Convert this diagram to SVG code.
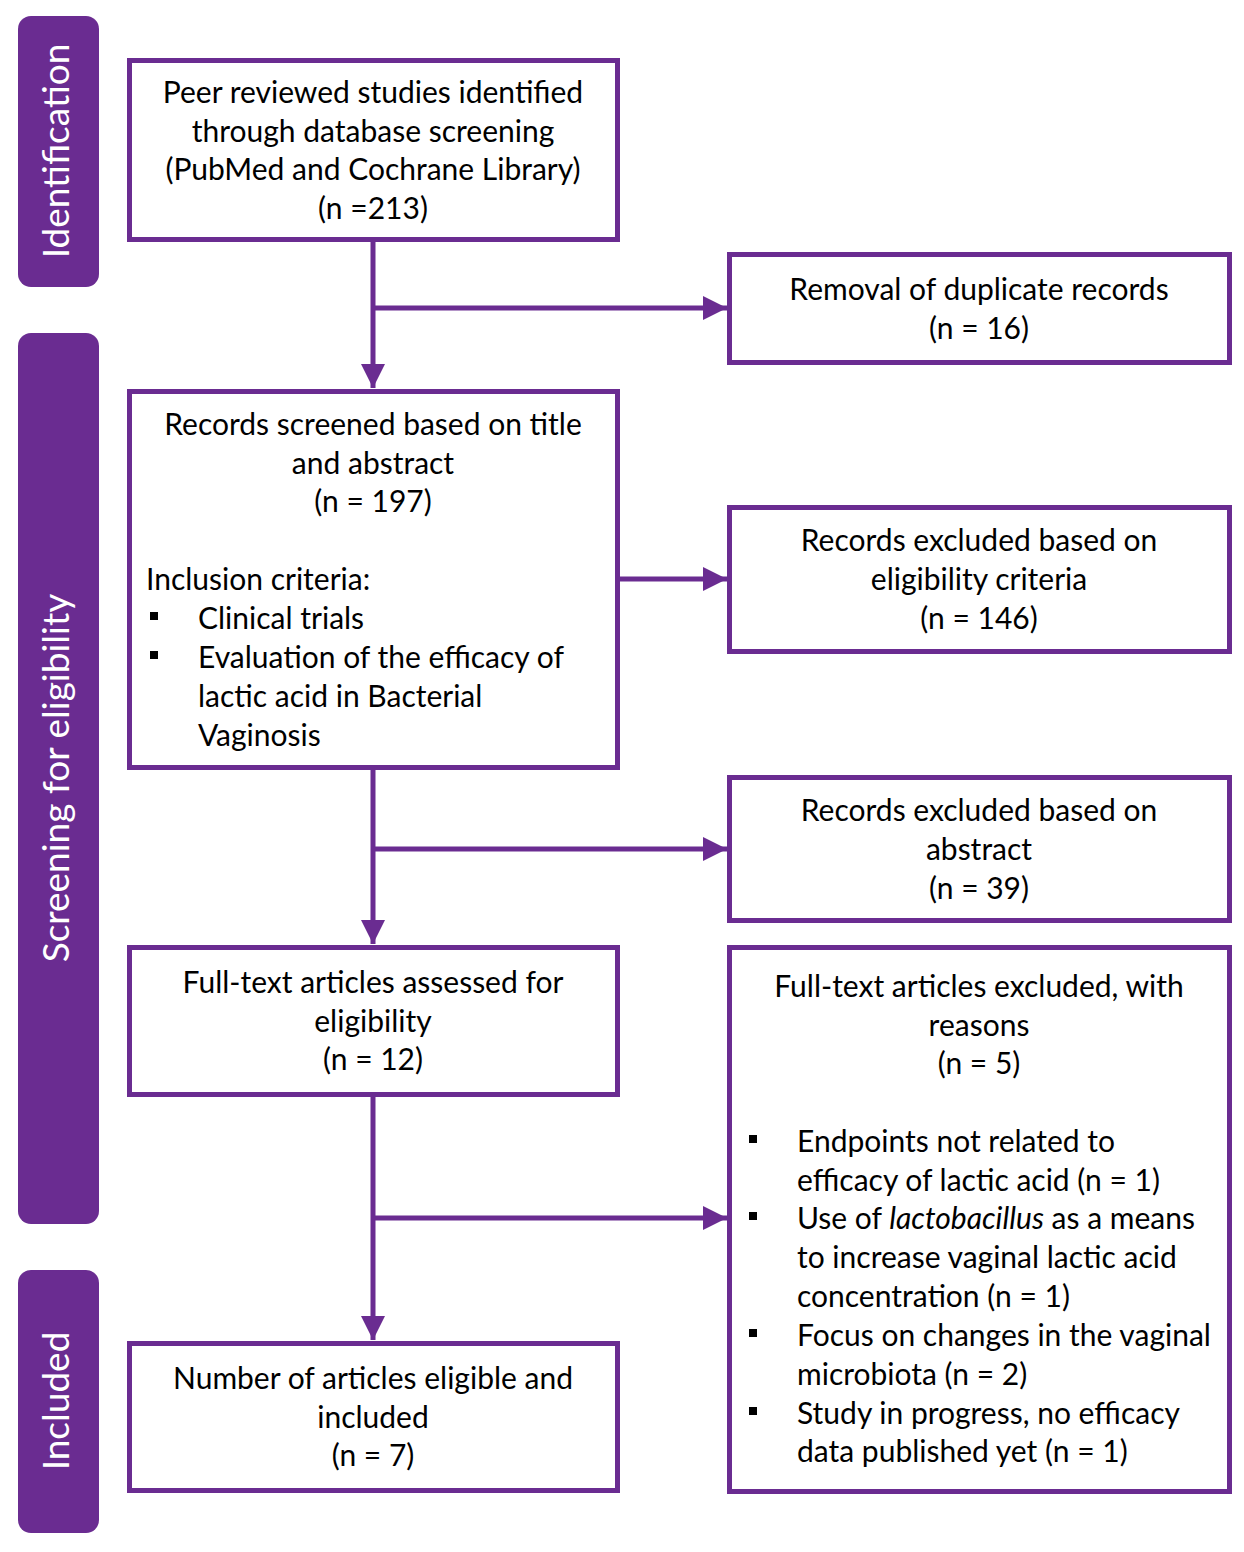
<svg xmlns="http://www.w3.org/2000/svg" width="1244" height="1552" viewBox="0 0 1244 1552">
<style>
.bar{fill:#6a2c91}
.side{fill:#ffffff;font-family:Lato,"Open Sans",sans-serif;font-size:37px;text-anchor:middle}
.box{fill:#ffffff;stroke:#6a2c91;stroke-width:5}
.t{fill:#000000;font-family:Lato,"Open Sans",sans-serif;font-size:30px}
.c{text-anchor:middle}
.ln{fill:none;stroke:#6a2c91;stroke-width:5}
.bul{fill:#000000}
</style>
<defs>
<marker id="ah" viewBox="0 0 10 10" refX="10" refY="5" markerUnits="userSpaceOnUse" markerWidth="24" markerHeight="25" orient="auto">
<path d="M0,0 L10,5 L0,10 Z" fill="#6a2c91"/>
</marker>
</defs>
<rect width="1244" height="1552" fill="#ffffff"/>
<g id="phase-identification">
<rect class="bar" x="18" y="16" width="81" height="271" rx="13"/>
<text class="side" transform="translate(69,151) rotate(-90)">Identification</text>
</g>
<g id="phase-screening">
<rect class="bar" x="18" y="333" width="81" height="891" rx="13"/>
<text class="side" transform="translate(69,778) rotate(-90)">Screening for eligibility</text>
</g>
<g id="phase-included">
<rect class="bar" x="18" y="1270" width="81" height="263" rx="13"/>
<text class="side" transform="translate(69,1401) rotate(-90)">Included</text>
</g>
<g id="connectors">
<path class="ln" d="M373,242 V388" marker-end="url(#ah)"/>
<path class="ln" d="M373,308 H727" marker-end="url(#ah)"/>
<path class="ln" d="M620,579 H727" marker-end="url(#ah)"/>
<path class="ln" d="M373,770 V944" marker-end="url(#ah)"/>
<path class="ln" d="M373,849 H727" marker-end="url(#ah)"/>
<path class="ln" d="M373,1097 V1340" marker-end="url(#ah)"/>
<path class="ln" d="M373,1218 H727" marker-end="url(#ah)"/>
</g>
<g id="box-identified">
<rect class="box" x="129.5" y="60.5" width="488" height="179"/>
<text class="t c" x="373" y="103">Peer reviewed studies identified</text>
<text class="t c" x="373" y="142">through database screening</text>
<text class="t c" x="373" y="180">(PubMed and Cochrane Library)</text>
<text class="t c" x="373" y="219">(n =213)</text>
</g>
<g id="box-duplicates">
<rect class="box" x="729.5" y="254.5" width="500" height="108"/>
<text class="t c" x="979" y="300">Removal of duplicate records</text>
<text class="t c" x="979" y="339">(n = 16)</text>
</g>
<g id="box-screened">
<rect class="box" x="129.5" y="391.5" width="488" height="376"/>
<text class="t c" x="373" y="435">Records screened based on title</text>
<text class="t c" x="373" y="474">and abstract</text>
<text class="t c" x="373" y="512">(n = 197)</text>
<text class="t" x="146" y="590">Inclusion criteria:</text>
<rect class="bul" x="150" y="612" width="8" height="8"/>
<text class="t" x="198" y="629">Clinical trials</text>
<rect class="bul" x="150" y="651" width="8" height="8"/>
<text class="t" x="198" y="668">Evaluation of the efficacy of</text>
<text class="t" x="198" y="707">lactic acid in Bacterial</text>
<text class="t" x="198" y="746">Vaginosis</text>
</g>
<g id="box-excluded-eligibility">
<rect class="box" x="729.5" y="507.5" width="500" height="144"/>
<text class="t c" x="979" y="551">Records excluded based on</text>
<text class="t c" x="979" y="590">eligibility criteria</text>
<text class="t c" x="979" y="629">(n = 146)</text>
</g>
<g id="box-excluded-abstract">
<rect class="box" x="729.5" y="777.5" width="500" height="143"/>
<text class="t c" x="979" y="821">Records excluded based on</text>
<text class="t c" x="979" y="860">abstract</text>
<text class="t c" x="979" y="899">(n = 39)</text>
</g>
<g id="box-fulltext">
<rect class="box" x="129.5" y="947.5" width="488" height="147"/>
<text class="t c" x="373" y="993">Full-text articles assessed for</text>
<text class="t c" x="373" y="1032">eligibility</text>
<text class="t c" x="373" y="1070">(n = 12)</text>
</g>
<g id="box-fulltext-excluded">
<rect class="box" x="729.5" y="947.5" width="500" height="544"/>
<text class="t c" x="979" y="997">Full-text articles excluded, with</text>
<text class="t c" x="979" y="1036">reasons</text>
<text class="t c" x="979" y="1074">(n = 5)</text>
<rect class="bul" x="749" y="1135" width="8" height="8"/>
<text class="t" x="797" y="1152">Endpoints not related to</text>
<text class="t" x="797" y="1191">efficacy of lactic acid (n = 1)</text>
<rect class="bul" x="749" y="1212" width="8" height="8"/>
<text class="t" x="797" y="1229">Use of <tspan font-style="italic">lactobacillus</tspan> as a means</text>
<text class="t" x="797" y="1268">to increase vaginal lactic acid</text>
<text class="t" x="797" y="1307">concentration (n = 1)</text>
<rect class="bul" x="749" y="1329" width="8" height="8"/>
<text class="t" x="797" y="1346">Focus on changes in the vaginal</text>
<text class="t" x="797" y="1385">microbiota (n = 2)</text>
<rect class="bul" x="749" y="1407" width="8" height="8"/>
<text class="t" x="797" y="1424">Study in progress, no efficacy</text>
<text class="t" x="797" y="1462">data published yet (n = 1)</text>
</g>
<g id="box-included">
<rect class="box" x="129.5" y="1343.5" width="488" height="147"/>
<text class="t c" x="373" y="1389">Number of articles eligible and</text>
<text class="t c" x="373" y="1428">included</text>
<text class="t c" x="373" y="1466">(n = 7)</text>
</g>
</svg>
